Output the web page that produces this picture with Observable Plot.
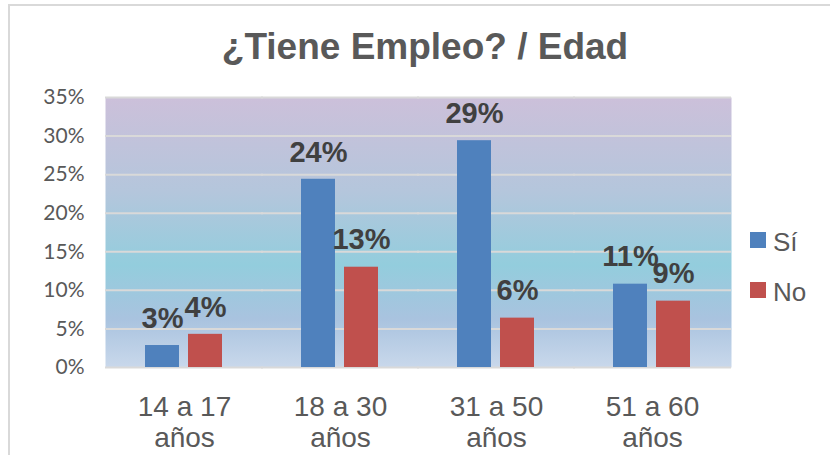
<!DOCTYPE html>
<html><head><meta charset="utf-8">
<script src="https://cdn.jsdelivr.net/npm/d3@7"></script>
<script src="https://cdn.jsdelivr.net/npm/@observablehq/plot@0.6"></script>
<style>html,body{margin:0;padding:0;background:#fff;overflow:hidden}</style>
</head><body><div id="chart"></div>
<script>
const title = "¿Tiene Empleo? / Edad";
const categories = ["14 a 17 años", "18 a 30 años", "31 a 50 años", "51 a 60 años"];
const series = ["Sí", "No"];
const siValues = [2.85, 24.4, 29.4, 10.8];
const noValues = [4.3, 13.0, 6.4, 8.6];
const seriesColors = ["#4F81BD", "#C0504D"];
const yTicks = [0, 5, 10, 15, 20, 25, 30, 35];

const data = categories.flatMap((c, i) => [
  {cat: c, serie: series[0], value: siValues[i]},
  {cat: c, serie: series[1], value: noValues[i]}
]);

const chart = Plot.plot({
  width: 830, height: 455,
  marginLeft: 105, marginRight: 100, marginTop: 97, marginBottom: 88,
  style: {fontFamily: "'Liberation Sans', Arial, sans-serif", background: "transparent"},
  fx: {domain: categories, padding: 0, label: null, axis: null},
  x: {domain: series, paddingInner: 0.2045, paddingOuter: 0.886, axis: null},
  y: {domain: [0, 35], axis: null},
  color: {domain: series, range: seriesColors},
  marks: [
    Plot.frame({fill: "url(#bgGrad)", stroke: null, insetLeft: -1, insetRight: -1}),
    Plot.gridY(yTicks, {stroke: "#D9D9D9", strokeOpacity: 1, strokeWidth: 2, insetLeft: -1, insetRight: -1}),
    Plot.axisY(yTicks, {tickSize: 0, tickPadding: 22, tickFormat: d => d + "%", fontSize: 21, fontFamily: "Lato", color: "#595959", label: null}),
    Plot.axisFx({anchor: "bottom", tickSize: 0, tickPadding: 27, fontSize: 28, lineHeight: 1.1, color: "#595959", label: null, tickFormat: d => d.replace(" años", "\naños")}),
    Plot.barY(data, {fx: "cat", x: "serie", y: "value", fill: "serie"}),
    Plot.text(data, {fx: "cat", x: "serie", y: "value", text: d => Math.round(d.value) + "%", dy: -27, fontSize: 29, fontWeight: "bold", fill: "#404040"})
  ]
});

const svg = d3.select(chart);
const defs = svg.insert("defs", ":first-child");
const grad = defs.append("linearGradient").attr("id", "bgGrad")
  .attr("x1", 0).attr("y1", 0).attr("x2", 0).attr("y2", 1);
[[0, "#CCC0DA"], [0.35, "#B4C6DC"], [0.62, "#93CDDD"], [0.82, "#A9C3DF"], [1, "#C9D8EB"]]
  .forEach(([o, c]) => grad.append("stop").attr("offset", o).attr("stop-color", c));

svg.insert("rect", "defs + *").attr("x", 9).attr("y", 5).attr("width", 900).attr("height", 500)
  .attr("fill", "white").attr("stroke", "#D9D9D9").attr("stroke-width", 2);

svg.append("text").attr("x", 425).attr("y", 59).attr("text-anchor", "middle")
  .attr("font-size", 37).attr("font-weight", "bold").attr("fill", "#595959").text(title);

series.forEach((s, i) => {
  svg.append("rect").attr("x", 750).attr("y", 232 + 50 * i).attr("width", 16).attr("height", 16).attr("fill", seriesColors[i]);
  svg.append("text").attr("x", 773).attr("y", 251 + 50 * i).attr("text-anchor", "start")
    .attr("font-size", 26).attr("fill", "#595959").text(s);
});

document.getElementById("chart").appendChild(chart);
</script>
</body></html>
